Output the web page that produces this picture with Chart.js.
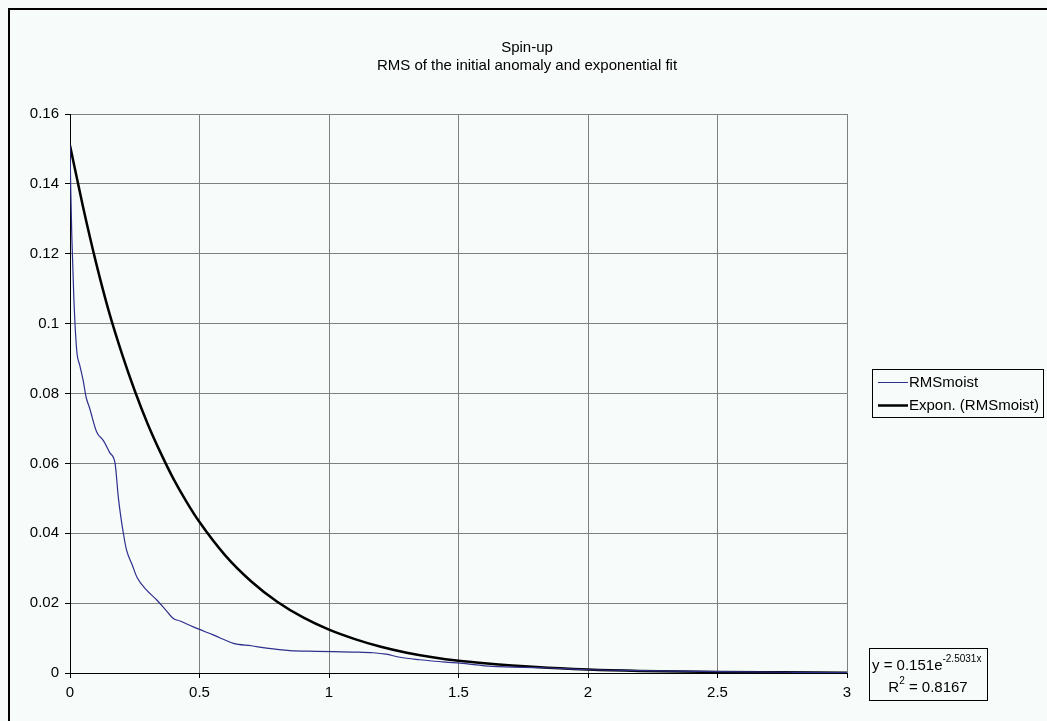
<!DOCTYPE html>
<html>
<head>
<meta charset="utf-8">
<script src="https://cdn.jsdelivr.net/npm/chart.js@4"></script>
<style>
  body { margin: 0; background: #f7fbfa; }
  canvas { display: block; }
</style>
</head>
<body>
<canvas id="spinChart" width="1047" height="721"></canvas>
<script>
// Chart text
const titleLines = ['Spin-up', 'RMS of the initial anomaly and exponential fit'];
const seriesNames = ['RMSmoist', 'Expon. (RMSmoist)'];

// Axis tick labels
const xTicks = ['0', '0.5', '1', '1.5', '2', '2.5', '3'];
const yTicks = ['0', '0.02', '0.04', '0.06', '0.08', '0.1', '0.12', '0.14', '0.16'];

// RMSmoist values
const rmsX = [0, 0.003, 0.007, 0.015, 0.026, 0.038, 0.051, 0.062, 0.075, 0.103, 0.129,
  0.154, 0.174, 0.187, 0.206, 0.219, 0.24, 0.258, 0.296, 0.335, 0.37,
  0.399, 0.425, 0.476, 0.553, 0.631, 0.7, 0.759, 0.849, 0.95, 1.017,
  1.1, 1.171, 1.22, 1.274, 1.35, 1.45, 1.506, 1.63, 1.83, 1.98,
  2.2, 2.5, 2.8, 3.0];
const rmsY = [0.151, 0.138, 0.125, 0.107, 0.0923, 0.088, 0.0837, 0.079, 0.076, 0.069, 0.0665,
  0.063, 0.060, 0.050, 0.040, 0.035, 0.031, 0.0275, 0.0237, 0.0209, 0.018,
  0.0156, 0.0149, 0.0132, 0.0109, 0.0085, 0.0078, 0.0071, 0.0064, 0.0062, 0.0061,
  0.006, 0.0058, 0.0054, 0.0045, 0.0038, 0.0031, 0.0028, 0.0019, 0.0015, 0.001,
  0.0007, 0.0004, 0.0002, 0.0001];

// Exponential trend line
const fitX = [0, 0.05, 0.1, 0.15, 0.2, 0.25, 0.3, 0.35, 0.4, 0.45,
  0.5, 0.6, 0.7, 0.8, 0.9, 1.0, 1.1, 1.2, 1.3, 1.4,
  1.5, 1.6, 1.8, 2.0, 2.2, 2.5, 2.75, 3.0];
const fitY = [0.151, 0.1335, 0.1176, 0.1035, 0.0915, 0.0808, 0.0713, 0.063, 0.0555, 0.049,
  0.0432, 0.0336, 0.0262, 0.0204, 0.0159, 0.0124, 0.0097, 0.0075, 0.0058, 0.0045,
  0.0035, 0.0028, 0.0017, 0.001, 0.0006, 0.0003, 0.0002, 0.0001];

// Trend line equation box
const eqMain = 'y = 0.151e';
const eqExp = '-2.5031x';
const r2Text = 'R';
const r2Rest = ' = 0.8167';

const FONT = '"Liberation Sans", Arial, sans-serif';
const BG = '#f7fbfa';
const BLUE = '#2e2e8c';

function toPoints(xs, ys) {
  return xs.map((x, i) => ({ x: x, y: ys[i] }));
}

// Background, outer frame, title, legend and equation box
const decorPlugin = {
  id: 'decor',
  beforeDraw(chart) {
    const ctx = chart.ctx;
    ctx.save();
    ctx.fillStyle = BG;
    ctx.fillRect(0, 0, chart.width, chart.height);
    ctx.fillStyle = '#000';
    ctx.fillRect(8, 8, chart.width - 8, 2);
    ctx.fillRect(8, 8, 2, chart.height - 8);
    ctx.restore();
  },
  afterDraw(chart) {
    const ctx = chart.ctx;
    ctx.save();

    // title
    ctx.fillStyle = '#000';
    ctx.font = '15px ' + FONT;
    ctx.textAlign = 'center';
    ctx.textBaseline = 'middle';
    ctx.fillText(titleLines[0], 527, 48);
    ctx.fillText(titleLines[1], 527, 66);

    // legend
    ctx.lineWidth = 1;
    ctx.strokeStyle = '#000';
    ctx.strokeRect(872.5, 369.5, 171, 48);
    ctx.font = '15px ' + FONT;
    ctx.textAlign = 'left';
    const colors = [BLUE, '#000'];
    const widths = [1, 2.5];
    [382, 405].forEach((y, i) => {
      ctx.beginPath();
      ctx.strokeStyle = colors[i];
      ctx.lineWidth = widths[i];
      ctx.moveTo(878, y + 0.5);
      ctx.lineTo(908, y + 0.5);
      ctx.stroke();
      ctx.fillStyle = '#000';
      ctx.fillText(seriesNames[i], 909, y + 1);
    });

    // equation box
    ctx.lineWidth = 1;
    ctx.strokeStyle = '#000';
    ctx.strokeRect(869.5, 648.5, 118, 52);
    ctx.font = '15px ' + FONT;
    ctx.textBaseline = 'alphabetic';
    ctx.textAlign = 'left';
    ctx.fillText(eqMain, 872, 670);
    const w = ctx.measureText(eqMain).width;
    ctx.font = '10px ' + FONT;
    ctx.fillText(eqExp, 872 + w, 662);

    ctx.font = '15px ' + FONT;
    const rw = ctx.measureText(r2Text).width;
    const restW = ctx.measureText(r2Rest).width;
    ctx.font = '10px ' + FONT;
    const sw = ctx.measureText('2').width;
    const startX = 928 - (rw + sw + restW) / 2;
    ctx.font = '15px ' + FONT;
    ctx.fillText(r2Text, startX, 692);
    ctx.font = '10px ' + FONT;
    ctx.fillText('2', startX + rw, 684);
    ctx.font = '15px ' + FONT;
    ctx.fillText(r2Rest, startX + rw + sw, 692);

    ctx.restore();
  }
};

const ctx = document.getElementById('spinChart');

new Chart(ctx, {
  type: 'scatter',
  data: {
    datasets: [
      {
        label: seriesNames[0],
        data: toPoints(rmsX, rmsY),
        showLine: true,
        borderColor: BLUE,
        borderWidth: 1.2,
        pointRadius: 0,
        cubicInterpolationMode: 'monotone'
      },
      {
        label: seriesNames[1],
        data: toPoints(fitX, fitY),
        showLine: true,
        borderColor: '#000',
        borderWidth: 2.5,
        pointRadius: 0,
        cubicInterpolationMode: 'monotone'
      }
    ]
  },
  options: {
    responsive: false,
    animation: false,
    layout: {
      padding: { left: 10, right: 200, top: 114, bottom: 14 }
    },
    plugins: {
      legend: { display: false },
      tooltip: { enabled: false },
      title: { display: false }
    },
    scales: {
      x: {
        type: 'linear',
        min: 0,
        max: 3,
        afterFit: (scale) => { scale.height = 34; },
        afterBuildTicks: (scale) => {
          scale.ticks = xTicks.map(t => ({ value: parseFloat(t) }));
        },
        ticks: {
          color: '#000',
          font: { family: FONT, size: 15 },
          padding: 6,
          maxRotation: 0,
          callback: (value, index) => xTicks[index]
        },
        grid: {
          color: '#808080',
          lineWidth: 1,
          tickLength: 5,
          tickColor: '#000'
        },
        border: { color: '#000', width: 1 }
      },
      y: {
        min: 0,
        max: 0.16,
        afterFit: (scale) => { scale.width = 60; },
        afterBuildTicks: (scale) => {
          scale.ticks = yTicks.map(t => ({ value: parseFloat(t) }));
        },
        ticks: {
          color: '#000',
          font: { family: FONT, size: 15 },
          padding: 6,
          callback: (value, index) => yTicks[index]
        },
        grid: {
          color: '#808080',
          lineWidth: 1,
          tickLength: 5,
          tickColor: '#000'
        },
        border: { color: '#000', width: 1 }
      }
    }
  },
  plugins: [decorPlugin]
});
</script>
</body>
</html>
